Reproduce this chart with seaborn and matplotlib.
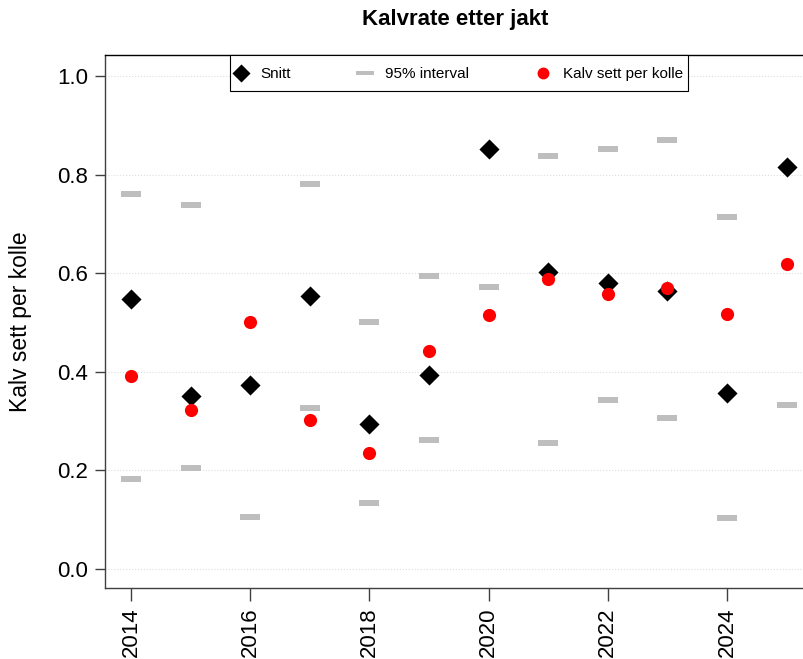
import numpy as np
import pandas as pd
import seaborn as sns
import matplotlib.pyplot as plt

years = [2014, 2015, 2016, 2017, 2018, 2019, 2020, 2021, 2022, 2023, 2024, 2025]
snitt = [0.548, 0.350, 0.373, 0.554, 0.294, 0.393, 0.852, 0.602, 0.580, 0.564, 0.357, 0.815]
kalv_per_kolle = [0.392, 0.322, 0.501, 0.302, 0.235, 0.442, 0.515, 0.588, 0.558, 0.570, 0.517, 0.619]
ci_upper = [0.760, 0.738, np.nan, 0.781, 0.501, 0.594, np.nan, 0.838, 0.852, 0.870, 0.714, np.nan]
ci_lower = [0.183, 0.205, 0.105, 0.327, 0.134, 0.262, 0.572, 0.256, 0.342, 0.307, 0.103, 0.333]

df = pd.DataFrame({"aar": years, "snitt": snitt, "kalv": kalv_per_kolle,
                   "ovre": ci_upper, "nedre": ci_lower})

sns.set_theme(style="white")
plt.rcParams['font.family'] = ['Liberation Sans', 'DejaVu Sans']
plt.rcParams['text.color'] = 'black'

fig = plt.figure(figsize=(8.04, 6.59), dpi=100)
ax = fig.add_axes([105 / 804, 1 - 588 / 659, 1 - 105 / 804, (588 - 55) / 659])

# grå strek som markør for intervallet
dash = [(-1, -0.27), (1, -0.27), (1, 0.27), (-1, 0.27), (-1, -0.27)]

sns.scatterplot(data=df, x="aar", y="snitt", marker="D", s=105, color="black",
                linewidth=0, ax=ax, label="Snitt", zorder=3)
sns.scatterplot(data=df, x="aar", y="ovre", marker=dash, s=190, color="#BEBEBE",
                linewidth=0, ax=ax, label="95% interval", zorder=2)
sns.scatterplot(data=df, x="aar", y="nedre", marker=dash, s=190, color="#BEBEBE",
                linewidth=0, ax=ax, zorder=2)
sns.scatterplot(data=df, x="aar", y="kalv", marker="o", s=90, color="red",
                linewidth=0, ax=ax, label="Kalv sett per kolle", zorder=4)

ax.set_xlim(2013.564, 2025.292)
ax.set_ylim(-0.0385, 1.0426)
ax.set_xticks([2014, 2016, 2018, 2020, 2022, 2024])
ax.set_yticks([0.0, 0.2, 0.4, 0.6, 0.8, 1.0])
ax.set_yticklabels(["0.0", "0.2", "0.4", "0.6", "0.8", "1.0"])
ax.tick_params(axis="x", labelrotation=90, labelsize=16, length=9, width=1,
               color="#404040", bottom=True, pad=5)
ax.tick_params(axis="y", labelsize=16, length=7, width=1, color="#404040",
               left=True, pad=5)
for t in ax.get_xticklabels() + ax.get_yticklabels():
    t.set_color("black")

ax.grid(axis="y", color="#DDDDDD", linestyle=":", linewidth=0.8)
ax.set_axisbelow(True)

ax.spines["right"].set_visible(False)
ax.spines["top"].set_color("black")
ax.spines["left"].set_color("#404040")
ax.spines["bottom"].set_color("#404040")
for s in ["top", "left", "bottom"]:
    ax.spines[s].set_linewidth(1)

ax.set_xlabel("")
ax.set_ylabel("Kalv sett per kolle", fontsize=16.5, color="black", labelpad=18)
fig.text(455 / 804, 1 - 20 / 659, "Kalvrate etter jakt", ha="center", va="center",
         fontsize=16, fontweight="bold", color="black")

handles, labels = ax.get_legend_handles_labels()
leg = ax.legend(handles, labels, ncol=3, loc="upper left",
                bbox_to_anchor=((230 - 105) / 699, 1.0, 458 / 699, 0.0),
                mode="expand", borderaxespad=0, fancybox=False, framealpha=1,
                edgecolor="black", fontsize=11, handlelength=0.8,
                handleheight=2.3, handletextpad=0.9, borderpad=0.3,
                markerscale=0.9)
leg.get_frame().set_linewidth(0.8)
for t in leg.get_texts():
    t.set_color("black")
# senk symbolene i legenden slik at de står på linje med teksten
for h in leg.legend_handles:
    h.set_offsets(h.get_offsets() - np.array([0, 4.0]))

fig.savefig("out.png", dpi=100)
